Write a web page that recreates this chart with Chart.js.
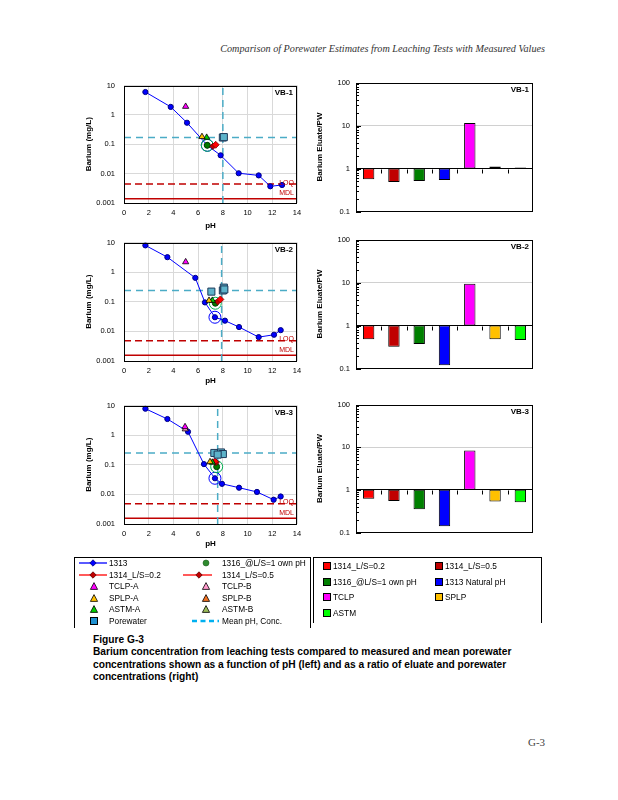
<!DOCTYPE html>
<html><head><meta charset="utf-8">
<script src="https://cdn.jsdelivr.net/npm/chart.js"></script>
<style>
html,body{margin:0;padding:0;background:#fff}
body{width:618px;height:800px;position:relative;overflow:hidden;font-family:"Liberation Sans",Arial,sans-serif;color:#000}
canvas{position:absolute}
.abs{position:absolute}
.hdr{position:absolute;right:73px;top:43px;font-family:"Liberation Serif","Times New Roman",serif;font-style:italic;font-size:10.2px;color:#333;white-space:nowrap}
.lg{position:absolute;font-size:8.3px;white-space:nowrap;line-height:10px}
.box{position:absolute;border:1px solid #000;border-bottom:none}
.cap{position:absolute;left:93px;top:634px;font-weight:bold;font-size:10.2px;line-height:12.3px;white-space:nowrap}
.pg{position:absolute;left:528px;top:736px;font-family:"Liberation Serif","Times New Roman",serif;font-size:11px;color:#444}
</style></head><body>
<div class="hdr">Comparison of Porewater Estimates from Leaching Tests with Measured Values</div>
<canvas id="l1"></canvas><canvas id="r1"></canvas>
<canvas id="l2"></canvas><canvas id="r2"></canvas>
<canvas id="l3"></canvas><canvas id="r3"></canvas>
<div class="box" style="left:74px;top:557px;width:235px;height:70px"></div>
<div class="box" style="left:313px;top:557px;width:227px;height:65px"></div>
<div class="cap">Figure G-3<br>Barium concentration from leaching tests compared to measured and mean porewater<br>concentrations shown as a function of pH (left) and as a ratio of eluate and porewater<br>concentrations (right)</div>
<div class="pg">G-3</div>
<script>
// ---------- axes ----------
const pHTicks = [0, 2, 4, 6, 8, 10, 12, 14];
const concTicks = [0.001, 0.01, 0.1, 1, 10];
const ratioTicks = [0.1, 1, 10, 100];
const barCategories = ['1314_L/S=0.2', '1314_L/S=0.5', '1316_@L/S=1 own pH', '1313 Natural pH', 'TCLP', 'SPLP', 'ASTM'];

// ---------- VB-1 ([pH, mg/L]) ----------
const vb1_1313 = [[1.73, 6.0], [3.78, 1.87], [5.10, 0.54], [6.74, 0.092], [7.82, 0.042], [9.28, 0.0103], [10.9, 0.0087], [11.84, 0.0037], [12.79, 0.0041]];
const vb1_natural = [[6.74, 0.092]];
const vb1_1316 = [[6.74, 0.092]];
const vb1_1314a = [[7.42, 0.096]];
const vb1_1314b = [[7.2, 0.085]];
const vb1_tclpA = [[4.99, 1.92]];
const vb1_tclpB = [];
const vb1_splpA = [[6.31, 0.18]];
const vb1_splpB = [];
const vb1_astmA = [[6.69, 0.17]];
const vb1_astmB = [];
const vb1_porewater = [[8.0, 0.17], [8.08, 0.175]];
const vb1_mean = [8.0, 0.17];
const vb1_LOQ = 0.0044, vb1_MDL = 0.0014;
const vb1_ratio = [0.566, 0.484, 0.51, 0.537, 11.4, 1.11, 1.05];

// ---------- VB-2 ----------
const vb2_1313 = [[1.73, 8.0], [3.51, 3.2], [5.77, 0.64], [6.55, 0.095], [7.36, 0.030], [8.17, 0.023], [9.31, 0.014], [10.9, 0.0064], [12.14, 0.0077], [12.68, 0.011]];
const vb2_natural = [[7.36, 0.030]];
const vb2_1316 = [[7.39, 0.089]];
const vb2_1314a = [[7.8, 0.12]];
const vb2_1314b = [[7.58, 0.10]];
const vb2_tclpA = [[4.99, 2.2]];
const vb2_tclpB = [];
const vb2_splpA = [[6.88, 0.11]];
const vb2_splpB = [];
const vb2_astmA = [[7.15, 0.11]];
const vb2_astmB = [];
const vb2_porewater = [[7.07, 0.22], [8.0, 0.24], [8.08, 0.30], [8.12, 0.26]];
const vb2_mean = [7.9, 0.24];
const vb2_LOQ = 0.0048, vb2_MDL = 0.00155;
const vb2_ratio = [0.48, 0.32, 0.37, 0.119, 9.3, 0.48, 0.46];

// ---------- VB-3 ----------
const vb3_1313 = [[1.73, 7.8], [3.51, 3.5], [5.18, 1.3], [6.47, 0.105], [7.36, 0.035], [7.93, 0.0227], [9.31, 0.0168], [10.76, 0.0121], [12.11, 0.0066], [12.68, 0.0085]];
const vb3_natural = [[7.36, 0.035]];
const vb3_1316 = [[7.5, 0.086]];
const vb3_1314a = [[7.36, 0.13]];
const vb3_1314b = [[7.45, 0.12]];
const vb3_tclpA = [[4.94, 1.9]];
const vb3_tclpB = [[4.96, 1.6]];
const vb3_splpA = [[6.96, 0.125]];
const vb3_splpB = [];
const vb3_astmA = [[7.15, 0.12]];
const vb3_astmB = [];
const vb3_porewater = [[7.31, 0.25], [7.85, 0.26], [8.0, 0.23], [7.58, 0.22]];
const vb3_mean = [7.58, 0.25];
const vb3_LOQ = 0.0048, vb3_MDL = 0.00155;
const vb3_ratio = [0.62, 0.55, 0.35, 0.14, 8.3, 0.53, 0.51];

// ---------- drawing ----------
const FF = '"Liberation Sans", Arial, sans-serif';
const barColors = ['#FF0000', '#C00000', '#008000', '#0000FF', '#FF00FF', '#FFC000', '#00FF00'];
const pts = a => a.map(d => ({x: d[0], y: d[1]}));

function place(id, b) {
  const el = document.getElementById(id);
  el.width = b.w; el.height = b.h;
  el.style.left = b.x + 'px'; el.style.top = b.y + 'px';
  el.style.width = b.w + 'px'; el.style.height = b.h + 'px';
  return el;
}

function decor(label, extras) {
  return {
    id: 'decor',
    afterDraw(chart) {
      const {ctx, chartArea: a} = chart;
      ctx.save();
      if (extras) extras(chart, ctx, a);
      ctx.strokeStyle = '#000'; ctx.lineWidth = 1;
      ctx.strokeRect(Math.round(a.left) + 0.5, Math.round(a.top) + 0.5, Math.round(a.right - a.left) - 1, Math.round(a.bottom - a.top) - 1);
      ctx.fillStyle = '#000'; ctx.font = 'bold 8px ' + FF; ctx.textAlign = 'right'; ctx.textBaseline = 'middle';
      ctx.fillText(label, a.right - 4, a.top + 7);
      ctx.restore();
    }
  };
}

function tri(color) {
  return {pointStyle: 'triangle', pointRadius: 3.6, backgroundColor: color, borderColor: '#000', borderWidth: 0.8};
}

function leftChart(id, b, label, p) {
  const el = place(id, b);
  const hl = v => [{x: 0, y: v}, {x: 14, y: v}];
  const datasets = [
    {data: pts(p.porewater), pointStyle: 'rect', pointRadius: 5, backgroundColor: '#5DB3CA', borderColor: '#1F3A5A', borderWidth: 1},
    Object.assign({data: pts(p.tclpA)}, tri('#FF00FF')),
    Object.assign({data: pts(p.tclpB)}, tri('#FF99CC')),
    Object.assign({data: pts(p.splpA)}, tri('#FFC000')),
    Object.assign({data: pts(p.splpB)}, tri('#F07020')),
    Object.assign({data: pts(p.astmA)}, tri('#00CC00')),
    Object.assign({data: pts(p.astmB)}, tri('#9BBB59')),
    {data: pts(p.p1314a), pointStyle: 'rectRot', pointRadius: 3.5, backgroundColor: '#FF0000', borderColor: '#800000', borderWidth: 0.8},
    {data: pts(p.p1314b), pointStyle: 'rectRot', pointRadius: 3.2, backgroundColor: '#C00000', borderColor: '#600000', borderWidth: 0.8},
    {data: pts(p.p1316), pointStyle: 'circle', pointRadius: 6, backgroundColor: 'rgba(0,0,0,0)', borderColor: '#00B050', borderWidth: 1},
    {data: pts(p.p1316), pointStyle: 'circle', pointRadius: 3, backgroundColor: '#007A00', borderColor: '#004000', borderWidth: 1},
    {data: pts(p.natural), pointStyle: 'circle', pointRadius: 6, backgroundColor: 'rgba(0,0,0,0)', borderColor: '#0000FF', borderWidth: 1},
    {data: pts(p.p1313), showLine: true, borderColor: '#0000FF', borderWidth: 1, pointStyle: 'circle', pointRadius: 2.6, backgroundColor: '#0000FF', pointBorderColor: '#000080', pointBorderWidth: 1},
    {data: hl(p.mean[1]), showLine: true, borderColor: '#4BACC6', borderWidth: 1.5, borderDash: [7, 5], pointRadius: 0},
    {data: [{x: p.mean[0], y: 0.001}, {x: p.mean[0], y: 10}], showLine: true, borderColor: '#4BACC6', borderWidth: 1.5, borderDash: [7, 5], pointRadius: 0},
    {data: hl(p.LOQ), showLine: true, borderColor: '#C00000', borderWidth: 1.5, borderDash: [7, 4], pointRadius: 0},
    {data: hl(p.MDL), showLine: true, borderColor: '#C00000', borderWidth: 1.5, pointRadius: 0}
  ];
  new Chart(el, {
    type: 'scatter',
    data: {datasets},
    options: {
      responsive: false, animation: false, events: [],
      layout: {padding: {top: 6.5, right: 11, left: 0, bottom: 0}},
      plugins: {legend: {display: false}, tooltip: {enabled: false}},
      scales: {
        x: {
          type: 'linear', min: 0, max: 14,
          afterBuildTicks: s => { s.ticks = pHTicks.map(v => ({value: v})); },
          afterFit: s => { s.height = b.axisH; },
          grid: {color: '#d9d9d9', drawTicks: false},
          border: {display: false},
          ticks: {padding: 5, font: {size: 7.5, family: FF}, color: '#000', callback: v => String(v)},
          title: {display: true, text: 'pH', font: {size: 8, weight: 'bold', family: FF}, color: '#000', padding: {top: 0, bottom: 1}}
        },
        y: {
          type: 'logarithmic', min: 0.001, max: 10,
          afterBuildTicks: s => { s.ticks = concTicks.map(v => ({value: v})); },
          afterFit: s => { s.width = 44; },
          grid: {color: '#d9d9d9', drawTicks: false},
          border: {display: false},
          ticks: {padding: 9, font: {size: 7.5, family: FF}, color: '#000', callback: v => String(v)},
          title: {display: true, text: 'Barium (mg/L)', font: {size: 8, weight: 'bold', family: FF}, color: '#000', padding: {top: 4.2, bottom: 0}}
        }
      }
    },
    plugins: [decor(label, (chart, ctx, a) => {
      const y = chart.scales.y;
      ctx.fillStyle = '#C00000'; ctx.font = '7px ' + FF; ctx.textAlign = 'right'; ctx.textBaseline = 'bottom';
      ctx.fillText('LOQ', a.right - 3, y.getPixelForValue(p.LOQ) + 2);
      ctx.fillText('MDL', a.right - 3, y.getPixelForValue(p.MDL) - 2);
    })]
  });
}

function rightChart(id, b, label, ratio) {
  const el = place(id, b);
  new Chart(el, {
    type: 'bar',
    data: {
      labels: barCategories,
      datasets: [{
        data: ratio.map(v => [1, v]),
        backgroundColor: barColors, borderColor: '#000', borderWidth: 1, borderSkipped: false,
        barPercentage: 0.45, categoryPercentage: 1
      }]
    },
    options: {
      responsive: false, animation: false, events: [],
      layout: {padding: {top: 9.5, right: 12, left: 0, bottom: 3.5}},
      plugins: {legend: {display: false}, tooltip: {enabled: false}},
      scales: {
        x: {type: 'category', display: false},
        y: {
          type: 'logarithmic', min: 0.1, max: 100,
          afterBuildTicks: s => { s.ticks = ratioTicks.map(v => ({value: v})); },
          afterFit: s => { s.width = 56; },
          grid: {drawTicks: false, lineWidth: 1, color: c => c.tick && c.tick.value === 1 ? '#000' : (c.tick && c.tick.value === 10 ? '#d0d0d0' : 'rgba(0,0,0,0)')},
          border: {display: false},
          ticks: {padding: 6, font: {size: 7.5, family: FF}, color: '#000', callback: v => String(v)},
          title: {display: true, text: 'Barium Eluate/PW', font: {size: 8, weight: 'bold', family: FF}, color: '#000', padding: {top: 15.2, bottom: 0}}
        }
      }
    },
    plugins: [decor(label, (chart, ctx, a) => {
      const sy = chart.scales.y, sx = chart.scales.x;
      ctx.strokeStyle = '#000'; ctx.lineWidth = 1; ctx.beginPath();
      ratioTicks.slice(0, 3).forEach(d => {
        for (let k = 1; k < 10; k++) {
          const yy = Math.round(sy.getPixelForValue(d * k)) + 0.5;
          ctx.moveTo(a.left, yy); ctx.lineTo(a.left + (k === 1 ? 5 : 3), yy);
        }
      });
      const y1 = Math.round(sy.getPixelForValue(1)) + 0.5;
      for (let i = 1; i < barCategories.length; i++) {
        const xx = Math.round((sx.getPixelForValue(i - 1) + sx.getPixelForValue(i)) / 2) + 0.5;
        ctx.moveTo(xx, y1); ctx.lineTo(xx, y1 + 4);
      }
      ctx.stroke();
    })]
  });
}

leftChart('l1', {x: 80, y: 72, w: 228, h: 160, axisH: 29}, 'VB-1',
  {p1313: vb1_1313, natural: vb1_natural, p1316: vb1_1316, p1314a: vb1_1314a, p1314b: vb1_1314b, tclpA: vb1_tclpA, tclpB: vb1_tclpB, splpA: vb1_splpA, splpB: vb1_splpB, astmA: vb1_astmA, astmB: vb1_astmB, porewater: vb1_porewater, mean: vb1_mean, LOQ: vb1_LOQ, MDL: vb1_MDL});
leftChart('l2', {x: 80, y: 229, w: 228, h: 158, axisH: 26}, 'VB-2',
  {p1313: vb2_1313, natural: vb2_natural, p1316: vb2_1316, p1314a: vb2_1314a, p1314b: vb2_1314b, tclpA: vb2_tclpA, tclpB: vb2_tclpB, splpA: vb2_splpA, splpB: vb2_splpB, astmA: vb2_astmA, astmB: vb2_astmB, porewater: vb2_porewater, mean: vb2_mean, LOQ: vb2_LOQ, MDL: vb2_MDL});
leftChart('l3', {x: 80, y: 392, w: 228, h: 158, axisH: 26}, 'VB-3',
  {p1313: vb3_1313, natural: vb3_natural, p1316: vb3_1316, p1314a: vb3_1314a, p1314b: vb3_1314b, tclpA: vb3_tclpA, tclpB: vb3_tclpB, splpA: vb3_splpA, splpB: vb3_splpB, astmA: vb3_astmA, astmB: vb3_astmB, porewater: vb3_porewater, mean: vb3_mean, LOQ: vb3_LOQ, MDL: vb3_MDL});
rightChart('r1', {x: 300, y: 72, w: 245, h: 150}, 'VB-1', vb1_ratio);
rightChart('r2', {x: 300, y: 229, w: 245, h: 150}, 'VB-2', vb2_ratio);
rightChart('r3', {x: 300, y: 394, w: 245, h: 149}, 'VB-3', vb3_ratio);

// ---------- legends ----------
function addLegend(x, y, w, inner, label, tx) {
  const d = document.createElement('div');
  d.className = 'abs'; d.style.left = x + 'px'; d.style.top = (y - 5) + 'px';
  d.innerHTML = '<svg width="' + w + '" height="10" style="display:block">' + inner + '</svg>';
  document.body.appendChild(d);
  const t = document.createElement('div');
  t.className = 'lg'; t.style.left = tx + 'px'; t.style.top = (y - 5) + 'px'; t.textContent = label;
  document.body.appendChild(t);
}
const svgLine = (w, c, cx, fill, stroke) => '<line x1="0" y1="5" x2="' + w + '" y2="5" stroke="' + c + '" stroke-width="1.3"/>' +
  '<polygon points="' + cx + ',1.8 ' + (cx + 3.2) + ',5 ' + cx + ',8.2 ' + (cx - 3.2) + ',5" fill="' + fill + '" stroke="' + stroke + '" stroke-width="0.8"/>';
const svgTri = f => '<polygon points="5,1.6 8.6,8.4 1.4,8.4" fill="' + f + '" stroke="#000" stroke-width="0.8"/>';
const svgSq = f => '<rect x="1.5" y="1.5" width="7" height="7" fill="' + f + '" stroke="#000" stroke-width="1"/>';
const leftRows = [563, 574.5, 586, 597.5, 609, 620.5];
addLegend(79, leftRows[0], 28, svgLine(28, '#0000FF', 14, '#0000FF', '#000080'), '1313', 109);
addLegend(79, leftRows[1], 28, svgLine(28, '#FF0000', 14, '#C00000', '#600000'), '1314_L/S=0.2', 109);
addLegend(89, leftRows[2], 10, svgTri('#FF00FF'), 'TCLP-A', 109);
addLegend(89, leftRows[3], 10, svgTri('#FFC000'), 'SPLP-A', 109);
addLegend(89, leftRows[4], 10, svgTri('#00CC00'), 'ASTM-A', 109);
addLegend(89, leftRows[5], 10, svgSq('#1E90D0'), 'Porewater', 109);
addLegend(201, leftRows[0], 10, '<circle cx="5" cy="5" r="3" fill="#2E8B2E" stroke="#1E5E1E" stroke-width="0.6"/>', '1316_@L/S=1 own pH', 222);
addLegend(183, leftRows[1], 29, svgLine(29, '#FF0000', 16, '#C00000', '#600000'), '1314_L/S=0.5', 222);
addLegend(201, leftRows[2], 10, svgTri('#FF99CC'), 'TCLP-B', 222);
addLegend(201, leftRows[3], 10, svgTri('#F07020'), 'SPLP-B', 222);
addLegend(201, leftRows[4], 10, svgTri('#9BBB59'), 'ASTM-B', 222);
addLegend(192, leftRows[5], 27, '<line x1="0" y1="5" x2="27" y2="5" stroke="#00B0F0" stroke-width="2.4" stroke-dasharray="5,3.5"/>', 'Mean pH, Conc.', 222);

const rightRows = [566, 581.5, 597, 613];
barCategories.forEach((c, i) => {
  const col = i % 2, row = Math.floor(i / 2);
  addLegend(col ? 434 : 322, rightRows[row], 10, svgSq(barColors[i]), c, col ? 445 : 333);
});
</script>
</body></html>
